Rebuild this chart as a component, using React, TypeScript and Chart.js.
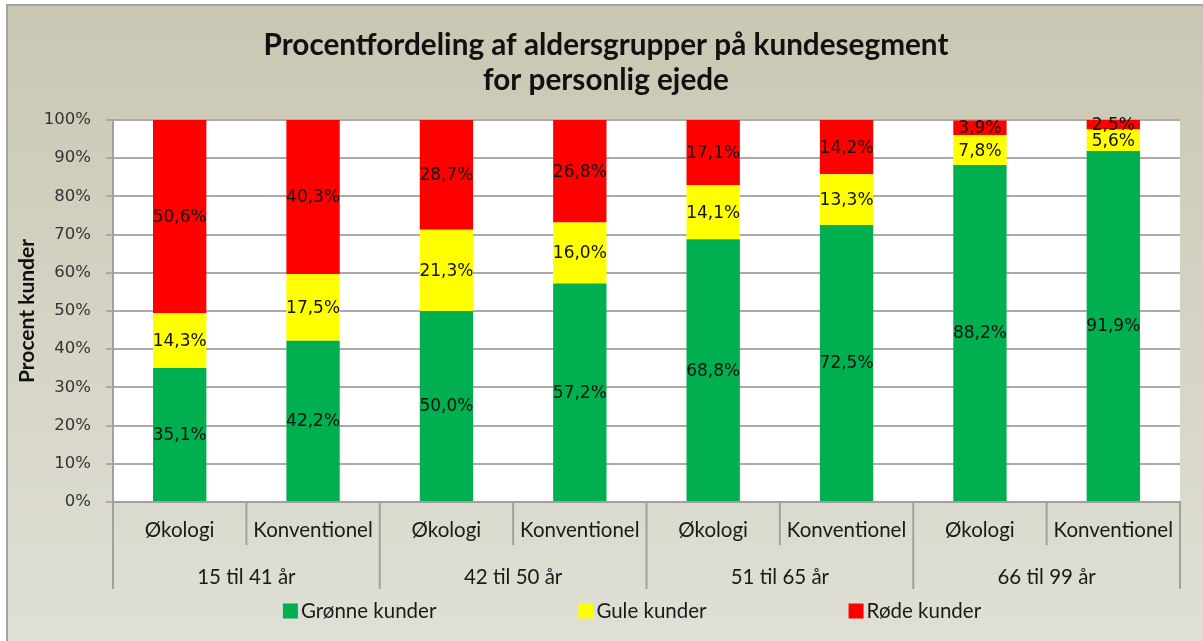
import React, { useEffect, useRef } from 'react';
import { Chart, registerables } from 'chart.js';

Chart.register(...registerables);

// ---- data ----
const titleLines = ['Procentfordeling af aldersgrupper på kundesegment', 'for personlig ejede'];
const ageGroups = ['15 til 41 år', '42 til 50 år', '51 til 65 år', '66 til 99 år'];
const segments = ['Økologi', 'Konventionel'];
const categories = ageGroups.flatMap(() => segments);
const seriesNames = ['Grønne kunder', 'Gule kunder', 'Røde kunder'];
const greenValues = [35.1, 42.2, 50.0, 57.2, 68.8, 72.5, 88.2, 91.9];
const yellowValues = [14.3, 17.5, 21.3, 16.0, 14.1, 13.3, 7.8, 5.6];
const redValues = [50.6, 40.3, 28.7, 26.8, 17.1, 14.2, 3.9, 2.5];
const seriesColors = ['#00b050', '#ffff00', '#ff0000'];
const yAxisTitle = 'Procent kunder';

const W = 1203;
const H = 641;
const AXIS_COLOR = '#a0a0a0';
const CAT_FONT = '20.5px Lato';
const VAL_FONT = '17px "DejaVu Sans"';

const fmt = (v: number) => v.toFixed(1).replace('.', ',') + '%';

const decorPlugin = {
  id: 'decor',
  beforeDraw(chart: any) {
    const { ctx, chartArea } = chart;
    ctx.save();
    ctx.fillStyle = '#ffffff';
    ctx.fillRect(0, 0, W, H);
    const g = ctx.createLinearGradient(0, 5, 0, H);
    g.addColorStop(0, '#c9c7b2');
    g.addColorStop(1, '#e0dfd6');
    ctx.fillStyle = g;
    ctx.fillRect(7, 5, W + 10, H + 10);
    ctx.strokeStyle = '#a4a4a4';
    ctx.lineWidth = 2;
    ctx.strokeRect(7, 5, W + 10, H + 10);
    ctx.fillStyle = '#ffffff';
    ctx.fillRect(chartArea.left, chartArea.top, chartArea.right - chartArea.left, chartArea.bottom - chartArea.top);
    // title
    ctx.fillStyle = '#111111';
    ctx.font = 'bold 29.7px Lato';
    ctx.textAlign = 'center';
    ctx.textBaseline = 'middle';
    ctx.fillText(titleLines[0], 606, 45);
    ctx.fillText(titleLines[1], 606, 80);
    ctx.restore();
  },
  afterDatasetsDraw(chart: any) {
    const { ctx } = chart;
    ctx.save();
    ctx.font = VAL_FONT;
    ctx.fillStyle = '#111111';
    ctx.textAlign = 'center';
    ctx.textBaseline = 'middle';
    chart.data.datasets.forEach((ds: any, di: number) => {
      const meta = chart.getDatasetMeta(di);
      meta.data.forEach((el: any, i: number) => {
        const y = (el.y + el.base) / 2;
        ctx.fillText(fmt(ds.data[i]), el.x, y + 1);
      });
    });
    ctx.restore();
  },
  afterDraw(chart: any) {
    const { ctx, chartArea } = chart;
    const x = chart.scales.x;
    const n = categories.length;
    const b = chartArea.bottom;
    ctx.save();
    ctx.strokeStyle = AXIS_COLOR;
    ctx.lineWidth = 2;
    for (let i = 0; i <= n; i++) {
      let px: number;
      if (i === 0) px = chartArea.left;
      else if (i === n) px = chartArea.right;
      else px = (x.getPixelForValue(i - 1) + x.getPixelForValue(i)) / 2;
      const outer = i % segments.length === 0;
      ctx.beginPath();
      ctx.moveTo(px, b);
      ctx.lineTo(px, b + (outer ? 87 : 43));
      ctx.stroke();
    }
    ctx.fillStyle = '#1a1a1a';
    ctx.font = CAT_FONT;
    ctx.textAlign = 'center';
    ctx.textBaseline = 'middle';
    categories.forEach((c, i) => ctx.fillText(c, x.getPixelForValue(i), b + 28));
    ageGroups.forEach((g, j) => {
      const a = x.getPixelForValue(j * segments.length);
      const e = x.getPixelForValue(j * segments.length + segments.length - 1);
      ctx.fillText(g, (a + e) / 2, b + 75);
    });
    // legend
    const box = 15;
    const gapText = 3;
    const gapItem = 142;
    const widths = seriesNames.map((s) => ctx.measureText(s).width);
    const total = widths.reduce((s, w) => s + box + gapText + w, 0) + gapItem * (seriesNames.length - 1);
    let lx = 632 - total / 2;
    const ly = b + 109;
    ctx.textAlign = 'left';
    seriesNames.forEach((s, i) => {
      ctx.fillStyle = seriesColors[i];
      ctx.fillRect(lx, ly - box / 2, box, box);
      ctx.fillStyle = '#1a1a1a';
      ctx.fillText(s, lx + box + gapText, ly);
      lx += box + gapText + widths[i] + gapItem;
    });
    ctx.restore();
  },
};

export default function App() {
  const ref = useRef<HTMLCanvasElement>(null);
  useEffect(() => {
    if (!ref.current) return;
    const values = [greenValues, yellowValues, redValues];
    const chart = new Chart(ref.current, {
      type: 'bar',
      data: {
        labels: categories,
        datasets: seriesNames.map((name, i) => ({
          label: name,
          data: values[i],
          backgroundColor: seriesColors[i],
          borderWidth: 0,
          barPercentage: 0.4,
          categoryPercentage: 1,
        })),
      },
      options: {
        animation: false,
        responsive: false,
        devicePixelRatio: 1,
        layout: { padding: { left: 0, top: 120, right: 23, bottom: 0 } },
        plugins: {
          legend: { display: false },
          title: { display: false },
          tooltip: { enabled: false },
        },
        scales: {
          x: {
            stacked: true,
            grid: { display: false },
            border: { color: AXIS_COLOR, width: 2 },
            ticks: { display: false },
            afterFit: (s: any) => {
              s.height = 139;
            },
          },
          y: {
            stacked: true,
            min: 0,
            max: 100,
            ticks: {
              stepSize: 10,
              callback: (v: any) => v + '%',
              font: { family: 'DejaVu Sans', size: 16.5 },
              color: '#333333',
              padding: 15,
            },
            grid: { color: '#aaaaaa', lineWidth: 2, tickLength: 7 },
            border: { color: AXIS_COLOR, width: 2 },
            title: {
              display: true,
              text: yAxisTitle,
              font: { family: 'Lato', size: 21, weight: 'bold' },
              color: '#111111',
              padding: { top: 15, bottom: 0 },
            },
            afterFit: (s: any) => {
              s.width = 113;
            },
          },
        },
      } as any,
      plugins: [decorPlugin],
    });
    return () => chart.destroy();
  }, []);
  return (
    <div style={{ position: 'fixed', left: 0, top: 0, width: W, height: H }}>
      <canvas ref={ref} width={W} height={H} style={{ width: W, height: H, display: 'block' }} />
    </div>
  );
}
